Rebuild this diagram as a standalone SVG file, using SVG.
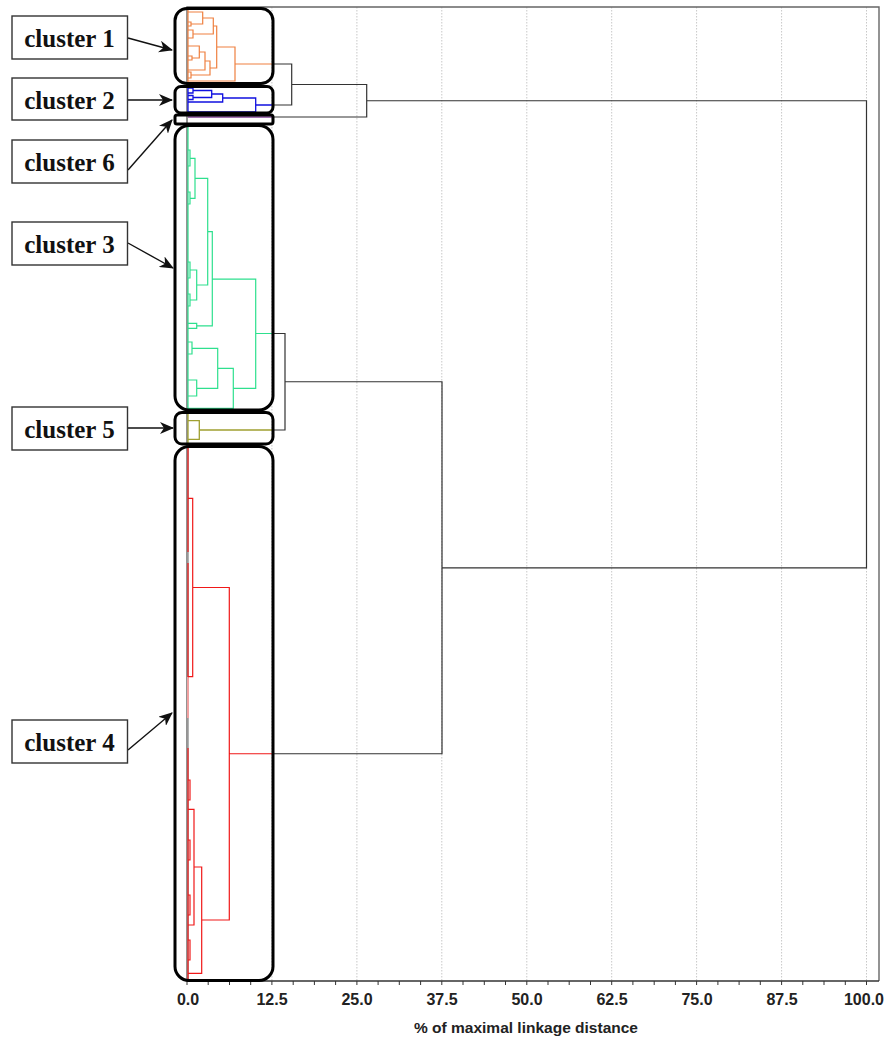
<svg xmlns="http://www.w3.org/2000/svg" width="886" height="1039" viewBox="0 0 886 1039">
<defs>
<marker id="ah" markerUnits="userSpaceOnUse" markerWidth="14" markerHeight="12" refX="13" refY="6" orient="auto">
<path d="M0,0 L14,6 L0,12 L4,6 z" fill="#111"/>
</marker>
<style>
.lbl{fill:#fff;stroke:#333;stroke-width:1.4}
.lt{font-family:"Liberation Serif","Times New Roman",serif;font-weight:bold;font-size:25px;fill:#111;text-anchor:middle}
.cb{fill:none;stroke:#000;stroke-width:3}
.arr{stroke:#111;stroke-width:1.4;fill:none;marker-end:url(#ah)}
.grid{stroke:#c8c8c8;stroke-width:1;stroke-dasharray:1.5,1.5}
.blk{fill:none;stroke:#333;stroke-width:1.2}
.or{fill:none;stroke:#ef8040;stroke-width:1.2}
.bl{fill:none;stroke:#1010e0;stroke-width:1.3}
.gr{fill:none;stroke:#2ee08e;stroke-width:1.2}
.ol{fill:none;stroke:#a0a030;stroke-width:1.3}
.rd{fill:none;stroke:#f01818;stroke-width:1.2}
.pu{fill:none;stroke:#a070b0;stroke-width:2}
.tk{font-family:"Liberation Sans",Arial,sans-serif;font-weight:bold;font-size:16px;fill:#222;text-anchor:middle}
</style>
</defs>
<rect width="886" height="1039" fill="#fff"/>
<g id="grid">
<line class="grid" x1="271.9" y1="7" x2="271.9" y2="981"/>
<line class="grid" x1="356.9" y1="7" x2="356.9" y2="981"/>
<line class="grid" x1="441.8" y1="7" x2="441.8" y2="981"/>
<line class="grid" x1="526.8" y1="7" x2="526.8" y2="981"/>
<line class="grid" x1="611.7" y1="7" x2="611.7" y2="981"/>
<line class="grid" x1="696.6" y1="7" x2="696.6" y2="981"/>
<line class="grid" x1="781.6" y1="7" x2="781.6" y2="981"/>
<line class="grid" x1="866.5" y1="7" x2="866.5" y2="981"/>
</g>
<g id="frame" fill="none">
<path d="M187,981 V7 H879 V981" stroke="#666" stroke-width="1.4"/>
<line x1="187" y1="981" x2="879" y2="981" stroke="#333" stroke-width="1.6"/>
<path stroke="#333" stroke-width="1" d="M187,981v4M208.2,981v4M229.5,981v4M250.7,981v4M271.9,981v4M293.2,981v4M314.4,981v4M335.6,981v4M356.9,981v4M378.1,981v4M399.3,981v4M420.6,981v4M441.8,981v4M463,981v4M484.3,981v4M505.5,981v4M526.8,981v4M548,981v4M569.2,981v4M590.5,981v4M611.7,981v4M632.9,981v4M654.2,981v4M675.4,981v4M696.6,981v4M717.9,981v4M739.1,981v4M760.3,981v4M781.6,981v4M802.8,981v4M824,981v4M845.3,981v4M866.5,981v4"/>
</g>
<g id="axis-labels">
<text class="tk" x="188" y="1005">0.0</text>
<text class="tk" x="272" y="1005">12.5</text>
<text class="tk" x="357" y="1005">25.0</text>
<text class="tk" x="442" y="1005">37.5</text>
<text class="tk" x="527" y="1005">50.0</text>
<text class="tk" x="612" y="1005">62.5</text>
<text class="tk" x="697" y="1005">75.0</text>
<text class="tk" x="782" y="1005">87.5</text>
<text class="tk" x="864" y="1005">100.0</text>
<text class="tk" x="526" y="1033" style="font-size:15.5px">% of maximal linkage distance</text>
</g>
<g id="dendrogram">
<path class="or" d="M188,10 V82"/>
<path class="or" d="M188,12 H202.7 V24 H191 M188,22 H191 V26 H188 M202.7,18 H213.3 V34 H193 M188,30 H193 V38 H188 M213.3,26 H216.7 V68 H210 M188,46 H199.3 V58 H192 M188,56 H192 V60 H188 M199.3,52 H205 V70 H188 M205,61 H210 V75 H191 M188,72 H191 V78 H188 M216.7,47 H235 V81 H188 M235,64 H273"/>
<path class="bl" d="M188,87 V113"/>
<path class="bl" d="M188,88 H193 V93 H188 M193,90.5 H211.7 V97.5 H193 M188,95.5 H193 V99.5 H188 M211.7,94 H222.7 V102 H188 M222.7,98 H255.7 V112 H188 M255.7,105 H273"/>
<path class="pu" d="M188,117 H273"/>
<path class="gr" d="M188,126 V409" stroke-width="2"/>
<path class="gr" d="M188,150 H190 V166 H188 M188,192 H190 V204 H188 M190,158.3 H195 V198.3 H190 M195,178.3 H207.7 V285 H196.7 M188,262 H190 V278 H188 M188,294 H190 V306 H188 M190,270 H196.7 V300 H190 M188,323.3 H196.7 V328.3 H188 M207.7,231.7 H212.3 V325.8 H196.7 M188,342 H192 V354 H188 M188,380 H196.7 V396 H188 M192,348.3 H217.7 V388.3 H196.7 M217.7,368.3 H233.3 V408.3 H188 M212.3,279.2 H255.7 V388.3 H233.3 M255.7,333.5 H273"/>
<path class="ol" d="M188,414 V443 M188,420.7 H199.3 V439.3 H188 M199.3,430 H273"/>
<path d="M188,448 V980" stroke="#999" stroke-width="1.5" fill="none"/>
<path class="rd" d="M188,448 V552 M188,563 V677 M188,748 V980" stroke-width="2"/>
<path d="M188,677 V718" stroke="#f0a0a0" stroke-width="2" fill="none"/>
<path class="rd" d="M188,498.3 H192.7 V676.7 H188 M192.7,587.5 H229.3 V920 H201.7 M188,809.3 H194 V925 H188 M194,867 H201.7 V973.3 H188 M188,780 H190 V800 H188 M188,840 H190 V860 H188 M188,895 H190 V915 H188 M188,940 H190 V960 H188 M229.3,753.75 H273"/>
</g>
<g id="connectors">
<path class="blk" d="M273,64 H291.7 V105 H273 M291.7,84.5 H366.7 V117 H273 M366.7,100.75 H866.5 V567.9 H442 M273,333.5 H285 V430 H273 M285,381.75 H442 V753.75 H273"/>
<line class="arr" x1="128" y1="38" x2="172" y2="50"/>
<line class="arr" x1="128" y1="100" x2="172" y2="100"/>
<line class="arr" x1="128" y1="170" x2="172" y2="120"/>
<line class="arr" x1="128" y1="243" x2="173" y2="268"/>
<line class="arr" x1="128" y1="428" x2="173" y2="428"/>
<line class="arr" x1="128" y1="750" x2="172" y2="713"/>
</g>
<g id="cluster1">
<rect class="cb" x="175" y="8.5" width="98" height="75" rx="12"/>
<rect class="lbl" x="12" y="16" width="115.5" height="43"/>
<text class="lt" x="69.5" y="46.5">cluster 1</text>
</g>
<g id="cluster2">
<rect class="cb" x="175" y="86.5" width="98" height="26.5" rx="6"/>
<rect class="lbl" x="12" y="78" width="115.5" height="42"/>
<text class="lt" x="69.5" y="108.5">cluster 2</text>
</g>
<g id="cluster6">
<rect class="cb" x="175" y="115" width="98" height="9" rx="2"/>
<rect class="lbl" x="12" y="140" width="115.5" height="43"/>
<text class="lt" x="69.5" y="170.5">cluster 6</text>
</g>
<g id="cluster3">
<rect class="cb" x="175" y="125.5" width="98" height="284.5" rx="14"/>
<rect class="lbl" x="12" y="222" width="115.5" height="43"/>
<text class="lt" x="69.5" y="253">cluster 3</text>
</g>
<g id="cluster5">
<rect class="cb" x="175" y="412.5" width="98" height="31.5" rx="7"/>
<rect class="lbl" x="12" y="407" width="115.5" height="43"/>
<text class="lt" x="69.5" y="437.5">cluster 5</text>
</g>
<g id="cluster4">
<rect class="cb" x="175" y="446.5" width="98" height="534" rx="14"/>
<rect class="lbl" x="12" y="720" width="115.5" height="43"/>
<text class="lt" x="69.5" y="751">cluster 4</text>
</g>
</svg>
